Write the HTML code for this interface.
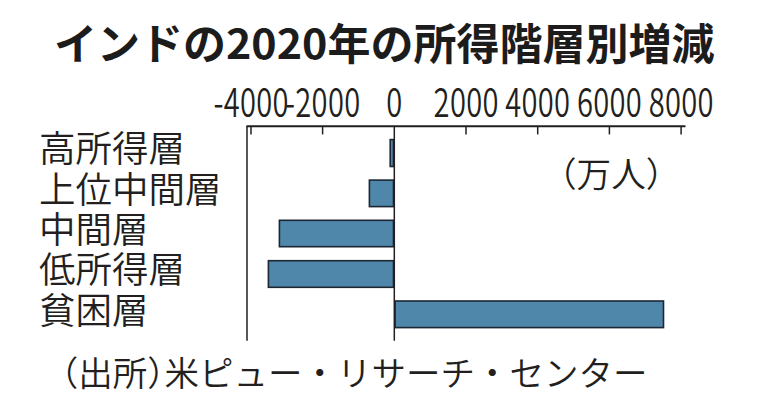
<!DOCTYPE html>
<html lang="ja">
<head>
<meta charset="utf-8">
<style>
html, body { margin: 0; padding: 0; background: #ffffff; }
body { width: 759px; height: 408px; position: relative; overflow: hidden; }
.t { position: absolute; white-space: nowrap; line-height: 1; color: #231f20; }
#title { left: 54px; top: 20px; font-family: "Noto Sans CJK JP", "Liberation Sans", sans-serif; font-weight: 700; font-size: 43px; color: #1c1c1c; }
.cat { left: 39px; font-family: "Liberation Sans", "Noto Sans CJK JP", sans-serif; font-weight: 350; font-size: 36.5px; }
#unit { left: 542px; top: 158px; font-family: "Liberation Sans", "Noto Sans CJK JP", sans-serif; font-weight: 350; font-size: 34.6px; }
#src { left: 61px; top: 357px; font-family: "Liberation Sans", "Noto Sans CJK JP", sans-serif; font-weight: 350; font-size: 34.5px; }
.h { font-feature-settings: "halt"; }
.yr { display: inline-block; transform: scaleY(0.94); transform-origin: 50% 50%; }
svg { position: absolute; left: 0; top: 0; }
</style>
</head>
<body>
<div class="t" id="title">インドの<span class="yr">2020</span>年の所得階層別増減</div>

<svg width="759" height="408" viewBox="0 0 759 408">
  <g fill="none" stroke="#231f20">
    <line x1="247" y1="126" x2="247" y2="340.7" stroke-width="1.5"/>
    <line x1="246.5" y1="126.3" x2="685.5" y2="126.3" stroke-width="2"/>
    <line x1="251" y1="126" x2="251" y2="134.4" stroke-width="1.5"/>
    <line x1="322.6" y1="126" x2="322.6" y2="134.4" stroke-width="1.5"/>
    <line x1="466" y1="126" x2="466" y2="134.4" stroke-width="1.5"/>
    <line x1="537.7" y1="126" x2="537.7" y2="134.4" stroke-width="1.5"/>
    <line x1="609.4" y1="126" x2="609.4" y2="134.4" stroke-width="1.5"/>
    <line x1="681.1" y1="126" x2="681.1" y2="134.4" stroke-width="1.5"/>
  </g>
  <g fill="#4f87ab" stroke="#1c2733" stroke-width="1.6">
    <rect x="390.20" y="139.60" width="3.30" height="26.90"/>
    <rect x="369.40" y="180.10" width="24.10" height="26.50"/>
    <rect x="279.40" y="220.30" width="114.10" height="26.40"/>
    <rect x="268.40" y="260.70" width="125.10" height="26.60"/>
    <rect x="395.10" y="301.00" width="268.40" height="26.60"/>
  </g>
  <line x1="394.3" y1="126" x2="394.3" y2="340.7" stroke="#231f20" stroke-width="1.5"/>
</svg>

<svg width="759" height="408" viewBox="0 0 759 408" style="position:absolute;left:0;top:0" font-family="'Noto Sans CJK JP', 'Liberation Sans', sans-serif" font-weight="350" font-size="39" fill="#231f20" text-anchor="middle" letter-spacing="0.4">
  <g transform="translate(251.15,116.9) scale(0.746,1)"><text x="0" y="0">-4000</text></g>
  <g transform="translate(322.75,116.9) scale(0.746,1)"><text x="0" y="0">-2000</text></g>
  <g transform="translate(394.45,116.9) scale(0.746,1)"><text x="0" y="0">0</text></g>
  <g transform="translate(466.15,116.9) scale(0.746,1)"><text x="0" y="0">2000</text></g>
  <g transform="translate(537.85,116.9) scale(0.746,1)"><text x="0" y="0">4000</text></g>
  <g transform="translate(609.55,116.9) scale(0.746,1)"><text x="0" y="0">6000</text></g>
  <g transform="translate(681.25,116.9) scale(0.746,1)"><text x="0" y="0">8000</text></g>
</svg>

<div class="t cat" style="top:132px;">高所得層</div>
<div class="t cat" style="top:173px;">上位中間層</div>
<div class="t cat" style="top:213px;">中間層</div>
<div class="t cat" style="top:253px;">低所得層</div>
<div class="t cat" style="top:294px;">貧困層</div>

<div class="t" id="unit">（万人）</div>
<div class="t" id="src"><span class="h">（</span>出所<span class="h">）</span>米ピュー・リサーチ・センター</div>
</body>
</html>
